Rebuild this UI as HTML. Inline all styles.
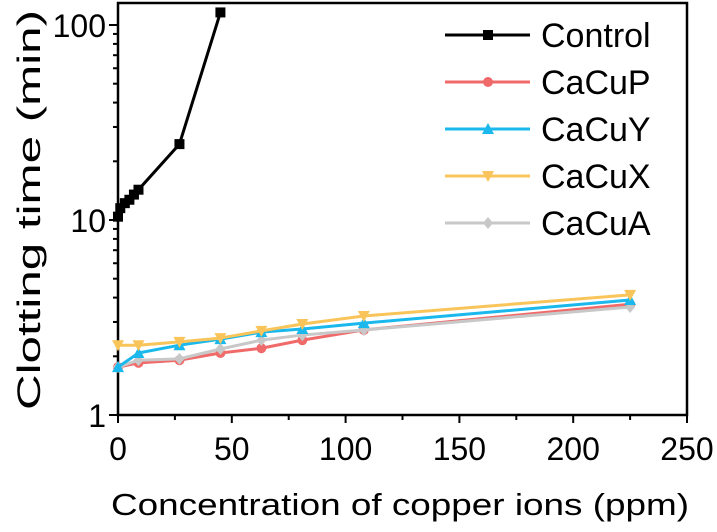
<!DOCTYPE html>
<html><head><meta charset="utf-8"><style>
body{margin:0;background:#fff}
svg text{font-family:"Liberation Sans",Arial,sans-serif}
</style></head><body>
<svg id="chart" width="717" height="527" viewBox="0 0 717 527" xmlns="http://www.w3.org/2000/svg">
<g id="axes"></g><g id="series"></g><g id="legend"></g>
</svg>
<script>
const xTicks=[0,50,100,150,200,250];
const yTicks=[1,10,100];
const seriesNames=["Control","CaCuP","CaCuY","CaCuX","CaCuA"];
const seriesColors=["#000000","#f06a6a","#1ab8ec","#f9c55a","#c8c8c8"];
const controlX=[0,1,3,5,7,9,27,45];
const controlY=[10.4,11.5,12.2,12.7,13.5,14.3,24.5,116];
const metalX=[0,9,27,45,63,81,108,225];
const cacupY=[1.76,1.85,1.91,2.08,2.2,2.42,2.73,3.7];
const cacuyY=[1.76,2.08,2.28,2.45,2.66,2.76,2.96,3.89];
const cacuxY=[2.28,2.28,2.37,2.48,2.7,2.93,3.22,4.13];
const cacuaY=[1.76,1.91,1.94,2.18,2.42,2.57,2.73,3.58];

const NS="http://www.w3.org/2000/svg";
const L=118,R=687,T=3,B=415;
const xs=v=>L+(v-0)/(250-0)*(R-L);
const ysc=v=>B-195*Math.log10(v);
function mk(tag,attrs,parent){const e=document.createElementNS(NS,tag);for(const k in attrs)e.setAttribute(k,attrs[k]);parent.appendChild(e);return e;}
const axes=document.getElementById('axes');

let f=mk('rect',{x:L,y:T,width:R-L,height:B-T,fill:'none',stroke:'#000','stroke-width':2.5},axes);


for(let i=0;i<xTicks.length;i++){
  const x=xs(xTicks[i]);
  let t=mk('line',{x1:x,x2:x,y1:B,y2:B+8,stroke:'#000','stroke-width':2},axes);
  
  
  let lb=mk('text',{x:x,y:460,'font-size':32,'text-anchor':'middle'},axes);
  lb.textContent=xTicks[i];
  
  
  if(i<xTicks.length-1){
    const xm=xs(xTicks[i]+25);
    let m=mk('line',{x1:xm,x2:xm,y1:B,y2:B+5,stroke:'#000','stroke-width':2},axes);
    
    
  }
}
for(let i=0;i<yTicks.length;i++){
  const y=ysc(yTicks[i]);
  let t=mk('line',{x1:L-9,x2:L,y1:y,y2:y,stroke:'#000','stroke-width':2},axes);
  
  
  let lb=mk('text',{x:L-12,y:y+12,'font-size':32,'text-anchor':'end'},axes);
  lb.textContent=yTicks[i];
  
  
  if(i<yTicks.length-1){
    for(let k=2;k<=9;k++){
      const ym=ysc(yTicks[i]*k);
      let m=mk('line',{x1:L-5,x2:L,y1:ym,y2:ym,stroke:'#000','stroke-width':2},axes);
      
      
    }
  }
}
let xt=mk('text',{x:400,y:515,'font-size':31,'text-anchor':'middle',textLength:578,lengthAdjust:'spacingAndGlyphs'},axes);
xt.textContent='Concentration of copper ions (ppm)';


let yt=mk('text',{x:0,y:0,'font-size':32,'text-anchor':'middle',transform:'translate(40,210) rotate(-90)',textLength:400,lengthAdjust:'spacingAndGlyphs'},axes);
yt.textContent='Clotting time (min)';



const seriesG=document.getElementById('series');
function marker(i,x,y,g,s){
  const c=seriesColors[i];let e;
  if(i===0)e=mk('rect',{x:x-s,y:y-s,width:2*s,height:2*s,fill:c},g);
  else if(i===1)e=mk('circle',{cx:x,cy:y,r:s,fill:c},g);
  else if(i===2)e=mk('polygon',{points:`${x},${y-s-1} ${x-s-1},${y+s} ${x+s+1},${y+s}`,fill:c},g);
  else if(i===3)e=mk('polygon',{points:`${x},${y+s+1} ${x-s-1},${y-s} ${x+s+1},${y-s}`,fill:c},g);
  else e=mk('polygon',{points:`${x},${y-s-1} ${x+s},${y} ${x},${y+s+1} ${x-s},${y}`,fill:c},g);
  return e;
}
const allX=[controlX,metalX,metalX,metalX,metalX];
const allY=[controlY,cacupY,cacuyY,cacuxY,cacuaY];
const order=[1,4,2,3,0];
for(const i of order){
  const g=mk('g',{},seriesG);
  
  
  const pts=allX[i].map((x,j)=>xs(x)+','+ysc(allY[i][j])).join(' ');
  let pl=mk('polyline',{points:pts,fill:'none',stroke:seriesColors[i],'stroke-width':3,'stroke-linejoin':'round'},g);
  
  
  for(let j=0;j<allX[i].length;j++){
    const m=marker(i,xs(allX[i][j]),ysc(allY[i][j]),g,5);
    
    
  }
}
const lg=document.getElementById('legend');


for(let i=0;i<seriesNames.length;i++){
  const y=35+i*47;
  const g=mk('g',{},lg);
  
  
  mk('line',{x1:445,x2:530,y1:y,y2:y,stroke:seriesColors[i],'stroke-width':3},g);
  marker(i,488,y,g,5);
  const t=mk('text',{x:541,y:y+12,'font-size':34},g);
  t.textContent=seriesNames[i];
}
</script>
</body></html>
